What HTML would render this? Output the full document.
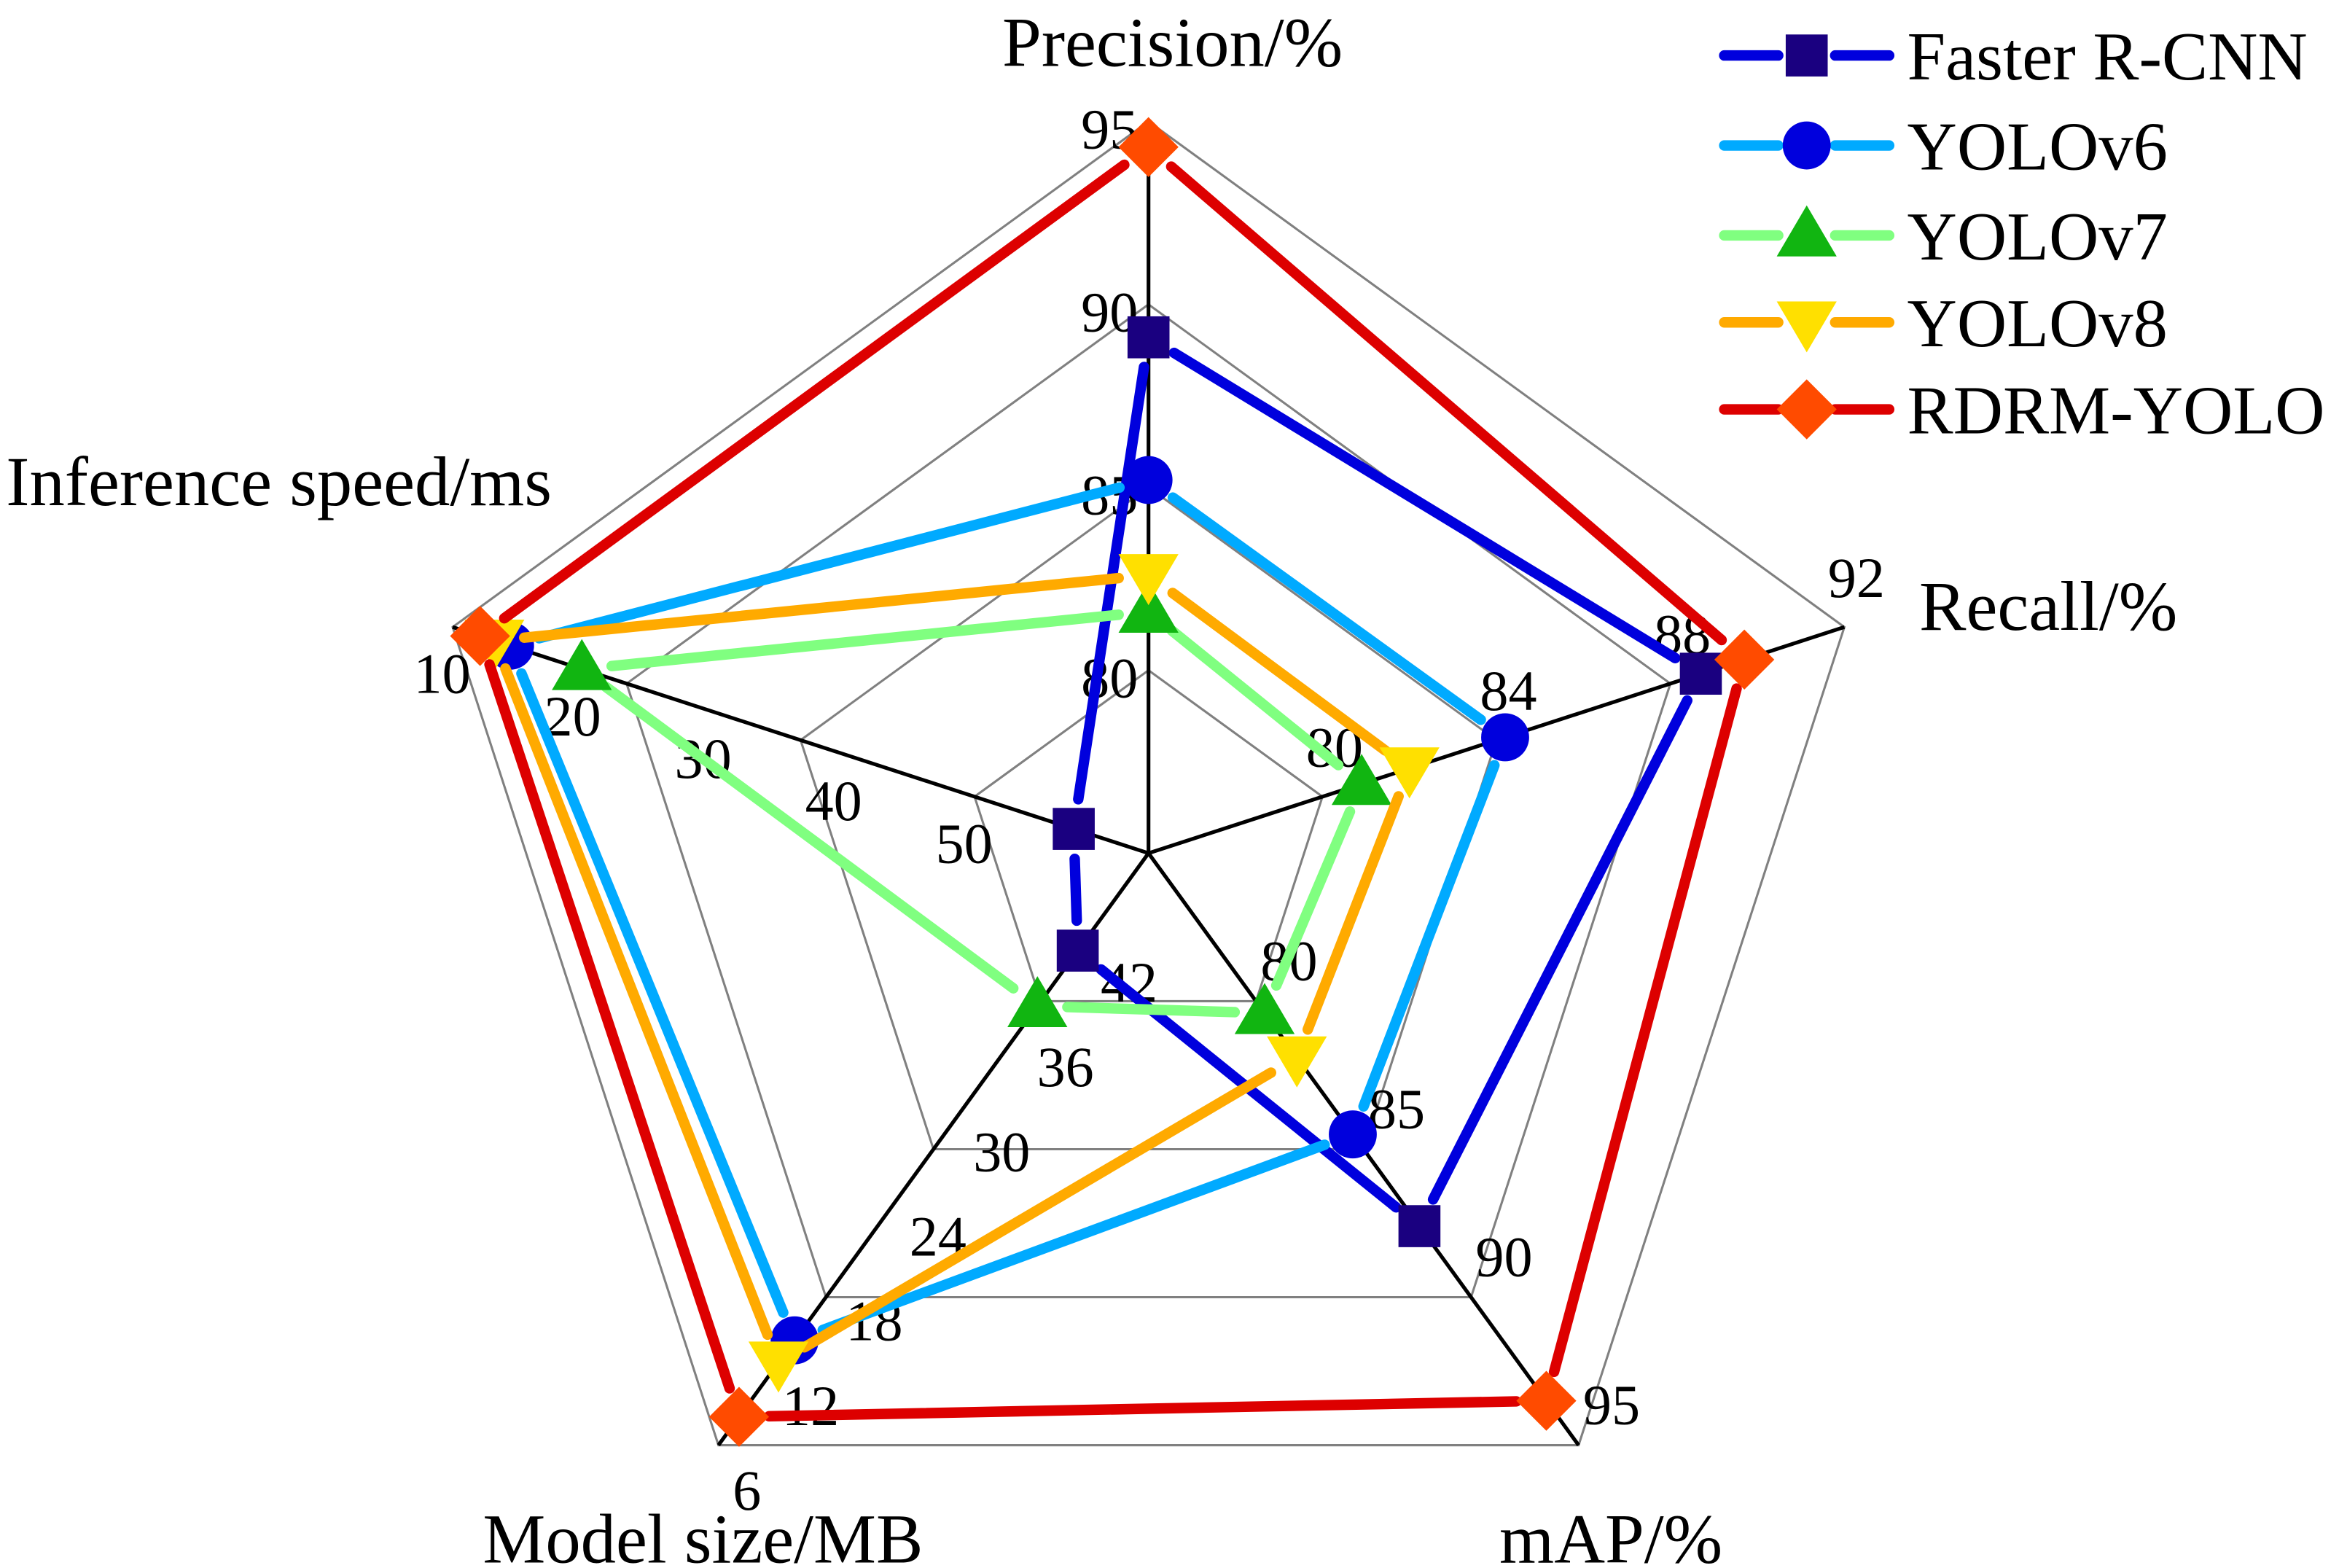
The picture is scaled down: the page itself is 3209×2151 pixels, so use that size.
<!DOCTYPE html>
<html><head><meta charset="utf-8">
<style>
html,body{margin:0;padding:0;background:#fff;}
svg{display:block;}
text{font-family:"Liberation Serif",serif;fill:#000;}
</style></head>
<body>
<svg id="chart" width="3209" height="2151" viewBox="0 0 1560 1045.7" xmlns="http://www.w3.org/2000/svg">
<g id="grid"></g>
<g id="ticks"></g>
<g id="series"></g>
<g id="axislabels">
<text x="782" y="44" font-size="47" text-anchor="middle">Precision/%</text>
<text x="1280" y="420" font-size="47">Recall/%</text>
<text x="1000" y="1042" font-size="47">mAP/%</text>
<text x="322" y="1042" font-size="47">Model size/MB</text>
<text x="4" y="337" font-size="47">Inference speed/ms</text>
</g>
<g id="legend"></g>
</svg>
<script>
const NS="http://www.w3.org/2000/svg";
const axisNames=["Precision","Recall","mAP","Model size","Inference speed"];
const axisMin=[75,76,75,54,63.33];
const axisMax=[95,92,95,6,10];
const precisionTicks=[80,85,90,95];
const recallTicks=[80,84,88,92];
const mapTicks=[80,85,90,95];
const modelTicks=[6,12,18,24,30,36,42];
const speedTicks=[10,20,30,40,50];
const seriesNames=["Faster R-CNN","YOLOv6","YOLOv7","YOLOv8","RDRM-YOLO"];
const fasterRcnn=[89.1,88.7,87.6,46.1,57.6];
const yolov6=[85.2,84.2,84.5,14.5,14.4];
const yolov7=[81.6,80.9,80.4,41.6,19.9];
const yolov8=[82.6,82.0,81.9,12.7,13.2];
const rdrmYolo=[94.3,89.7,93.5,8.3,12.1];

const CX=766,CY=569,R=488;
const ang=[90,18,-54,-126,162].map(a=>a*Math.PI/180);
function rScale(i,v){return (v-axisMin[i])/(axisMax[i]-axisMin[i]);}
function pt(i,r){return [CX+R*r*Math.cos(ang[i]),CY-R*r*Math.sin(ang[i])];}
function mk(tag,attrs,parent){const e=document.createElementNS(NS,tag);for(const k in attrs)e.setAttribute(k,attrs[k]);parent.appendChild(e);return e;}

const grid=document.getElementById('grid');
[0.25,0.5,0.75,1].forEach((r,j)=>{
  const p=[0,1,2,3,4].map(i=>pt(i,r).join(',')).join(' ');
  const e=mk('polygon',{points:p,fill:'none',stroke:'#808080','stroke-width':1.5},grid);
  
  
});
for(let i=0;i<5;i++){
  const p=pt(i,1);
  const e=mk('line',{x1:CX,y1:CY,x2:p[0],y2:p[1],stroke:'#000','stroke-width':2.5},grid);
  
  
}

const ticks=document.getElementById('ticks');
const tickSets=[precisionTicks,recallTicks,mapTicks,modelTicks,speedTicks];
const offs=[(r)=>[-26,5],(r)=>[8,-33],(r)=>[22,-27],(r)=>[19+(1-r)*53,30-(1-r)*57],(r)=>[-7,31]];
tickSets.forEach((arr,i)=>{
  arr.forEach(v=>{
    const r=rScale(i,v);const p=pt(i,r);const o=offs[i](r);
    const t=mk('text',{x:p[0]+o[0],y:p[1]+o[1]+13,'font-size':38,'text-anchor':'middle'},ticks);
    t.textContent=v;
    
    
  });
});

const lineColors=["#0000dd","#00aaff","#80ff80","#ffaa00","#dd0000"];
const markColors=["#1a0080","#0000dd","#11b511","#ffe000","#ff4b00"];
const markers=["square","circle","triangle","invtriangle","diamond"];
function drawMarker(g,type,x,y,color){
  let e;
  if(type==="square") e=mk('rect',{x:x-14,y:y-14,width:28,height:28,fill:color},g);
  else if(type==="circle") e=mk('circle',{cx:x,cy:y,r:16,fill:color},g);
  else if(type==="triangle") e=mk('polygon',{points:`${x},${y-20} ${x+20},${y+14} ${x-20},${y+14}`,fill:color},g);
  else if(type==="invtriangle") e=mk('polygon',{points:`${x-20},${y-14} ${x+20},${y-14} ${x},${y+20}`,fill:color},g);
  else e=mk('polygon',{points:`${x},${y-20} ${x+20},${y} ${x},${y+20} ${x-20},${y}`,fill:color},g);
  
  
  return e;
}
const seriesData=[fasterRcnn,yolov6,yolov7,yolov8,rdrmYolo];
const sg=document.getElementById('series');
seriesData.forEach((vals,s)=>{
  const g=mk('g',{},sg);
  
  
  const pts=vals.map((v,i)=>pt(i,rScale(i,v)));
  const gap=20;
  for(let i=0;i<5;i++){
    const a=pts[i],b=pts[(i+1)%5];
    const dx=b[0]-a[0],dy=b[1]-a[1],L=Math.hypot(dx,dy);
    if(L<2*gap+2)continue;
    const ux=dx/L,uy=dy/L;
    const l=mk('line',{x1:a[0]+ux*gap,y1:a[1]+uy*gap,x2:b[0]-ux*gap,y2:b[1]-uy*gap,stroke:lineColors[s],'stroke-width':7,'stroke-linecap':'round'},g);
    
    
  }
  pts.forEach(p=>drawMarker(g,markers[s],p[0],p[1],markColors[s]));
});

const lg=document.getElementById('legend');
const rowY=[37,97,157,215,273];
seriesNames.forEach((n,s)=>{
  const g=mk('g',{},lg);
  
  
  const y=rowY[s];
  const l1=mk('line',{x1:1150,y1:y,x2:1186,y2:y,stroke:lineColors[s],'stroke-width':7,'stroke-linecap':'round'},g);
  
  
  const l2=mk('line',{x1:1224,y1:y,x2:1260,y2:y,stroke:lineColors[s],'stroke-width':7,'stroke-linecap':'round'},g);
  
  
  drawMarker(g,markers[s],1205,y,markColors[s]);
  const t=mk('text',{x:1272,y:y+16,'font-size':46},g);
  t.textContent=n;
  
  
});
</script>
</body></html>
